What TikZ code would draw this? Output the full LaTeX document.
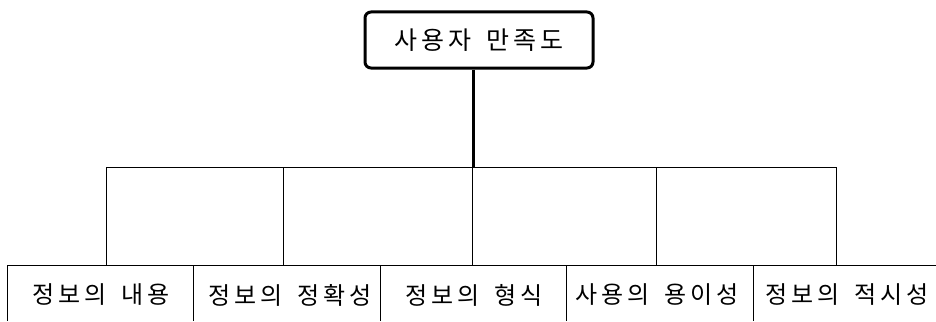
\documentclass[tikz,border=0pt]{standalone}
\usepackage{fontspec}
\newfontfamily\kr[LetterSpace=16,WordSpace=1.6]{Noto Sans CJK KR}
\begin{document}
\begin{tikzpicture}[x=1pt,y=1pt,
  thin line/.style={line width=1pt,black},
  thick line/.style={line width=3pt,black},
  topbox/.style={draw,line width=3pt,rounded corners=6pt,minimum width=228pt,minimum height=56pt,inner sep=0pt,font=\kr\fontsize{25}{28}\selectfont},
  label/.style={inner sep=0pt,font=\kr\fontsize{24}{28}\selectfont}]
\useasboundingbox[fill=white] (0,0) rectangle (936,-321);
% top node
\node[topbox] (top) at (479,-40) {사용자 만족도};
% junctions
\coordinate (j) at (473,-167);
\coordinate (bl) at (106,-167);
\coordinate (br) at (836,-167);
\draw[thick line] (top.south -| j) -- (j);
\draw[thin line] (bl) -- (br);
\foreach \x/\n in {106/a,283/b,472/c,656/d,836/e}{
  \coordinate (u\n) at (\x,-167);
  \coordinate (v\n) at (\x,-265);
  \draw[thin line] (u\n) -- (v\n);
}
% bottom row
\coordinate (rowl) at (7,-265);
\coordinate (rowr) at (936,-265);
\draw[thin line] (rowl) -- (rowr);
\foreach \x/\n in {7/1,193/2,380/3,566/4,753/5}{
  \coordinate (d\n) at (\x,-265);
  \coordinate (e\n) at (\x,-321);
  \draw[thin line] (d\n) -- (e\n);
}
\node[label] (n1) at (101,-295) {정보의 내용};
\node[label] (n2) at (290,-295) {정보의 정확성};
\node[label] (n3) at (474,-295) {정보의 형식};
\node[label] (n4) at (657,-295) {사용의 용이성};
\node[label] (n5) at (847,-295) {정보의 적시성};
\end{tikzpicture}
\end{document}
